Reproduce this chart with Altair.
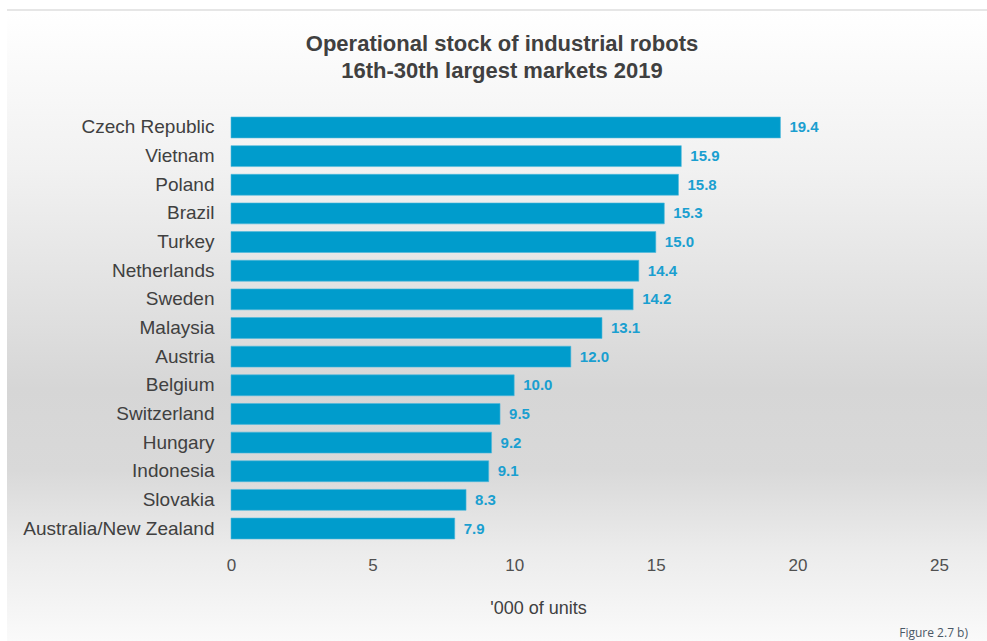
import altair as alt
import pandas as pd

countries = ["Czech Republic", "Vietnam", "Poland", "Brazil", "Turkey", "Netherlands",
             "Sweden", "Malaysia", "Austria", "Belgium", "Switzerland", "Hungary",
             "Indonesia", "Slovakia", "Australia/New Zealand"]
values = [19.4, 15.9, 15.8, 15.3, 15.0, 14.4, 14.2, 13.1, 12.0, 10.0, 9.5, 9.2, 9.1, 8.3, 7.9]
x_ticks = [0, 5, 10, 15, 20, 25]
title_lines = ["Operational stock of industrial robots", "16th-30th largest markets 2019"]
note = "Figure 2.7 b)"

df = pd.DataFrame({"country": countries, "value": values})
one = pd.DataFrame({"k": [0]})

FONT = "Liberation Sans"
W, H = 708, 430
PL, PT = 231, 113

bg = alt.Chart(one).mark_rect(
    fill=alt.Gradient(
        gradient="linear", x1=0, x2=0, y1=0, y2=1,
        stops=[
            alt.GradientStop(offset=0, color="#ffffff"),
            alt.GradientStop(offset=0.25, color="#f1f1f1"),
            alt.GradientStop(offset=0.5, color="#dedede"),
            alt.GradientStop(offset=0.6, color="#d6d6d6"),
            alt.GradientStop(offset=0.73, color="#d9d9d9"),
            alt.GradientStop(offset=0.86, color="#ececec"),
            alt.GradientStop(offset=1, color="#fafafa"),
        ],
    )
).encode(
    x=alt.value(7 - PL), x2=alt.value(987 - PL),
    y=alt.value(11 - PT), y2=alt.value(641 - PT),
)

topline = alt.Chart(one).mark_rule(color="#e6e6e6", strokeWidth=2).encode(
    x=alt.value(7 - PL), x2=alt.value(987 - PL), y=alt.value(10 - PT)
)

base = alt.Chart(df).encode(
    y=alt.Y("country:N", sort=None, title=None,
            scale=alt.Scale(paddingInner=0.27, paddingOuter=0.14),
            axis=alt.Axis(domain=False, ticks=False, labelFontSize=19, labelColor="#404040",
                          labelFont=FONT, labelPadding=17, labelLimit=400, zindex=2)),
)

bars = base.mark_bar(color="#009ccc", stroke="#4fb8dc", strokeWidth=0.6).encode(
    x=alt.X("value:Q", title="'000 of units",
            scale=alt.Scale(domain=[0, 25], nice=False),
            axis=alt.Axis(values=x_ticks, domain=False, ticks=False, grid=False,
                          labelFontSize=17, labelColor="#505050", labelFont=FONT,
                          labelFlush=False, labelPadding=14, titleFontSize=18,
                          titleFont=FONT, titleFontWeight="normal", titleColor="#404040",
                          titlePadding=26, titleX=538 - PL, titleAlign="center",
                          zindex=2)),
)

labels = base.mark_text(align="left", baseline="middle", dx=9, fontSize=15,
                        fontWeight="bold", color="#1a9fd0", font=FONT).encode(
    x="value:Q", text=alt.Text("value:Q", format=".1f")
)

title = alt.Chart(one).mark_text(
    align="center", baseline="middle", fontSize=22, fontWeight="bold",
    color="#404040", font=FONT, lineHeight=27, text=title_lines,
).encode(x=alt.value(502 - PL), y=alt.value(44 - PT))

fig = alt.Chart(one).mark_text(align="right", baseline="middle", fontSize=12,
                               color="#4a5866", font="Open Sans", text=note).encode(
    x=alt.value(968 - PL), y=alt.value(633 - PT)
)

chart = alt.layer(bg, topline, bars, labels, title, fig).properties(
    width=W, height=H,
    autosize=alt.AutoSizeParams(type="none"),
    padding={"left": PL, "top": PT, "right": 987 - PL - W, "bottom": 641 - PT - H},
    background="#ffffff",
).configure_view(stroke=None)

chart.save("out.html", embed_options={"renderer": "svg", "actions": False})
